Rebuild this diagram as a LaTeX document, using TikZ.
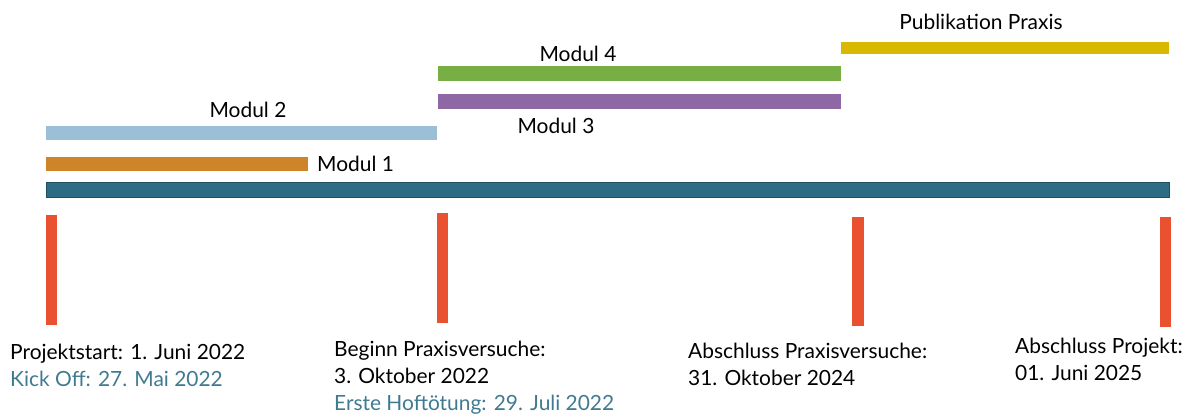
\documentclass[tikz,border=0pt]{standalone}
\usepackage{fontspec}
\setmainfont{Lato}
\usepackage{xcolor}
\usetikzlibrary{positioning}

\definecolor{balken}{HTML}{2E6B85}
\definecolor{balkenrand}{HTML}{1F4F63}
\definecolor{orange1}{HTML}{CE8529}
\definecolor{blau2}{HTML}{9BBFD6}
\definecolor{lila3}{HTML}{8E68A4}
\definecolor{gruen4}{HTML}{77AF44}
\definecolor{gelb}{HTML}{D8B800}
\definecolor{marker}{HTML}{EA5131}
\definecolor{kicktext}{HTML}{3F7A91}

\begin{document}
\begin{tikzpicture}[
  x=1bp, y=-1bp,
  every node/.style={inner sep=0pt, font=\fontsize{21}{27}\selectfont},
  datum/.style={anchor=base west, align=left},
  modul/.style={anchor=base}
]
\useasboundingbox (0,0) rectangle (1200,415);

% MODULE BARS
\fill[gelb]    (841,42)  rectangle (1169,54);
\fill[gruen4]  (438,66)  rectangle (841,81);
\fill[lila3]   (438,94)  rectangle (841,109);
\fill[blau2]   (46,126)  rectangle (437,140);
\fill[orange1] (46,157)  rectangle (308,171);

% MAIN TIMELINE
\filldraw[fill=balken, draw=balkenrand, line width=1bp] (46,182) rectangle (1169,197);

% MARKERS
\fill[marker] (46,215)   rectangle (57,325);
\fill[marker] (437,213)  rectangle (448,323);
\fill[marker] (852,217)  rectangle (864,326);
\fill[marker] (1160,217) rectangle (1171,327);

% MODULE LABELS
\node (pub) [modul] at (981,29)  {Publikation Praxis};
\node (m4)  [modul] at (578,61)  {Modul 4};
\node (m3)  [modul] at (556,133) {Modul 3};
\node (m2)  [modul] at (248,117) {Modul 2};
\node (m1)  [modul, anchor=base west] at (317,171) {Modul 1};

% DATES (base = last line)
\node (start) [datum] at (10,386)
  {Projektstart: 1. Juni 2022\\ \textcolor{kicktext}{Kick Off: 27. Mai 2022}};
\node (beginn) [datum] at (334,410)
  {Beginn Praxisversuche:\\ 3. Oktober 2022\\ \textcolor{kicktext}{Erste Hoftötung: 29. Juli 2022}};
\node (abpraxis) [datum] at (688,385)
  {Abschluss Praxisversuche:\\ 31. Oktober 2024};
\node (abprojekt) [datum] at (1015,380)
  {Abschluss Projekt:\\ 01. Juni 2025};
\end{tikzpicture}
\end{document}
